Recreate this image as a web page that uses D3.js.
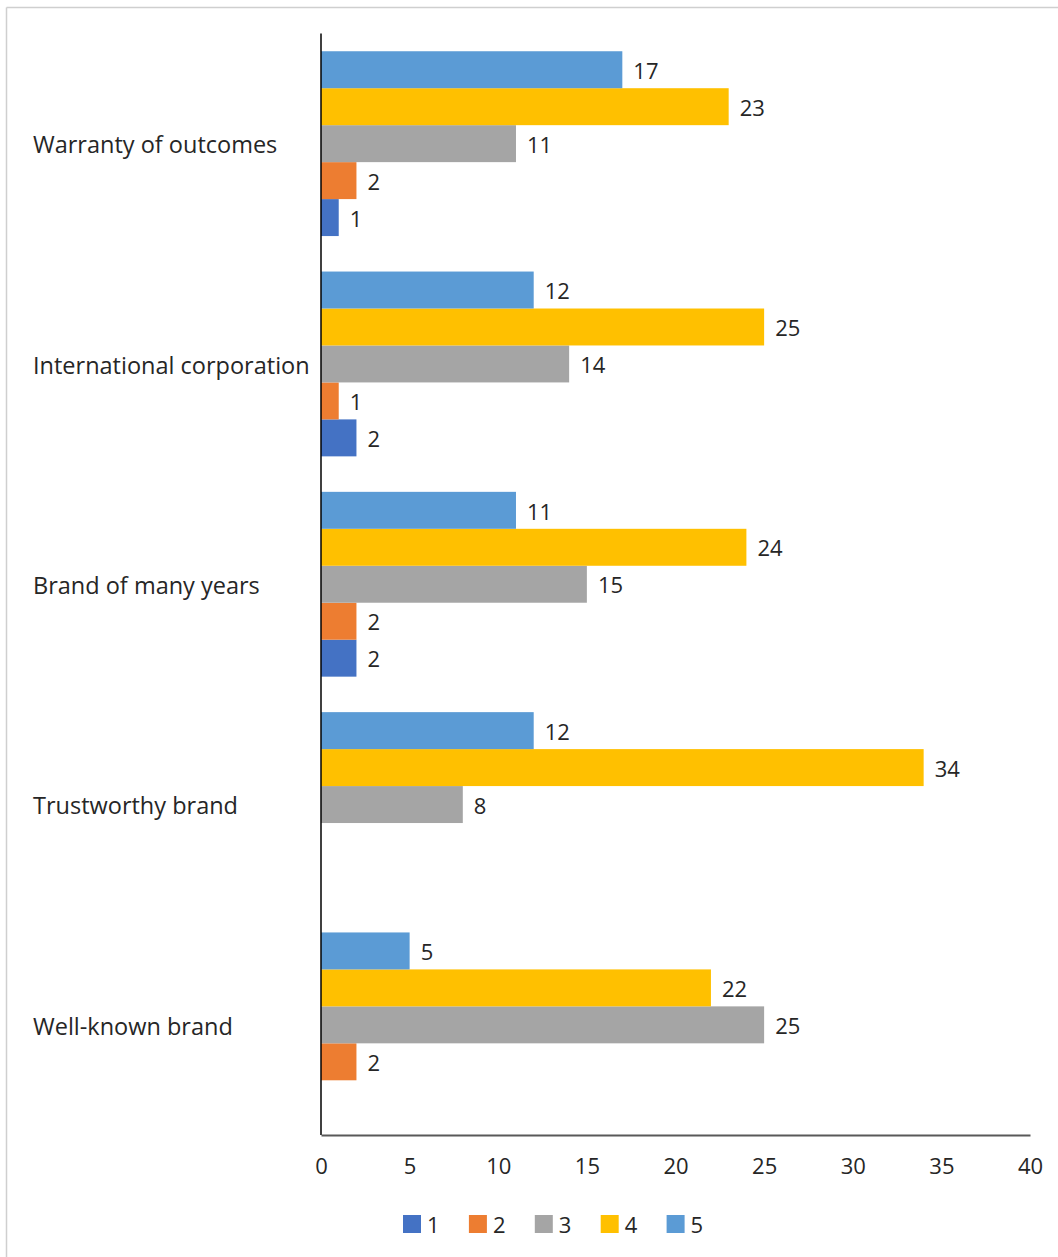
<!DOCTYPE html>
<html>
<head>
<meta charset="utf-8">
<script src="https://cdn.jsdelivr.net/npm/d3@7"></script>
<style>
  html, body { margin: 0; padding: 0; background: #fff; }
  svg { display: block; font-family: "Open Sans", "Noto Sans", sans-serif; }
</style>
</head>
<body>
<svg id="chart" width="1058" height="1257"></svg>
<script>
// Survey answers (rating 1–5) per brand attribute, top-to-bottom order
const categories = [
  "Warranty of outcomes",
  "International corporation",
  "Brand of many years",
  "Trustworthy brand",
  "Well-known brand"
];
const seriesNames = ["1", "2", "3", "4", "5"];
const series1 = [1, 2, 2, null, null];
const series2 = [2, 1, 2, null, 2];
const series3 = [11, 14, 15, 8, 25];
const series4 = [23, 25, 24, 34, 22];
const series5 = [17, 12, 11, 12, 5];
const seriesValues = [series1, series2, series3, series4, series5];
const colors = ["#4472C4", "#ED7D31", "#A5A5A5", "#FFC000", "#5B9BD5"];
const xTicks = [0, 5, 10, 15, 20, 25, 30, 35, 40];

const svg = d3.select("#chart");

// outer frame (top and left edges)
svg.append("line").attr("x1", 6.5).attr("x2", 1058).attr("y1", 7.5).attr("y2", 7.5)
  .attr("stroke", "#cfcfcf").attr("stroke-width", 1.5);
svg.append("line").attr("x1", 6.5).attr("x2", 6.5).attr("y1", 7.5).attr("y2", 1257)
  .attr("stroke", "#cfcfcf").attr("stroke-width", 1.5);

const plot = { left: 321, right: 1030, top: 33.5, bottom: 1135 };

const x = d3.scaleLinear().domain([0, 40]).range([plot.left, plot.right]);
const y0 = d3.scaleBand().domain(categories).range([plot.top, plot.bottom]).padding(0);
// series 5 drawn on top within each group
const y1 = d3.scaleBand().domain(seriesNames.slice().reverse())
  .range([0, y0.bandwidth()]).paddingInner(0).paddingOuter(0.48);

const rows = [];
categories.forEach((c, ci) => {
  seriesNames.forEach((s, si) => {
    const v = seriesValues[si][ci];
    if (v !== null) rows.push({ cat: c, s, si, v });
  });
});

const g = svg.append("g");
g.selectAll("rect.bar").data(rows).join("rect")
  .attr("class", "bar")
  .attr("x", x(0))
  .attr("y", d => y0(d.cat) + y1(d.s))
  .attr("width", d => x(d.v) - x(0))
  .attr("height", y1.bandwidth())
  .attr("fill", d => colors[d.si]);

g.selectAll("text.val").data(rows).join("text")
  .attr("class", "val")
  .attr("x", d => x(d.v) + 11)
  .attr("y", d => y0(d.cat) + y1(d.s) + y1.bandwidth() / 2 + 1.5)
  .attr("dy", "0.35em")
  .attr("font-size", 22)
  .attr("fill", "#262626")
  .text(d => d.v);

// category labels
svg.append("g").selectAll("text").data(categories).join("text")
  .attr("x", 33)
  .attr("y", d => y0(d) + y0.bandwidth() / 2 + 1.5)
  .attr("dy", "0.35em")
  .attr("font-size", 23.5)
  .attr("fill", "#262626")
  .text(d => d);

// axes lines
svg.append("line").attr("x1", plot.left).attr("x2", plot.left)
  .attr("y1", plot.top).attr("y2", plot.bottom)
  .attr("stroke", "#000").attr("stroke-width", 1.5);
const xAxis = d3.axisBottom(x).tickValues(xTicks).tickSize(0).tickPadding(23);
const xa = svg.append("g").attr("transform", `translate(0,${plot.bottom})`).call(xAxis);
xa.select(".domain").attr("stroke", "#595959").attr("stroke-width", 2);
xa.selectAll("text").attr("font-size", 22).attr("fill", "#262626")
  .attr("font-family", "'Open Sans', 'Noto Sans', sans-serif");

// legend
const legend = svg.append("g").attr("transform", "translate(403,1215)");
const lg = legend.selectAll("g").data(seriesNames).join("g")
  .attr("transform", (d, i) => `translate(${i * 65.9},0)`);
lg.append("rect").attr("width", 18).attr("height", 18).attr("fill", (d, i) => colors[i]);
lg.append("text").attr("x", 24).attr("y", 10).attr("dy", "0.38em")
  .attr("font-size", 22).attr("fill", "#262626").text(d => d);
</script>
</body>
</html>
